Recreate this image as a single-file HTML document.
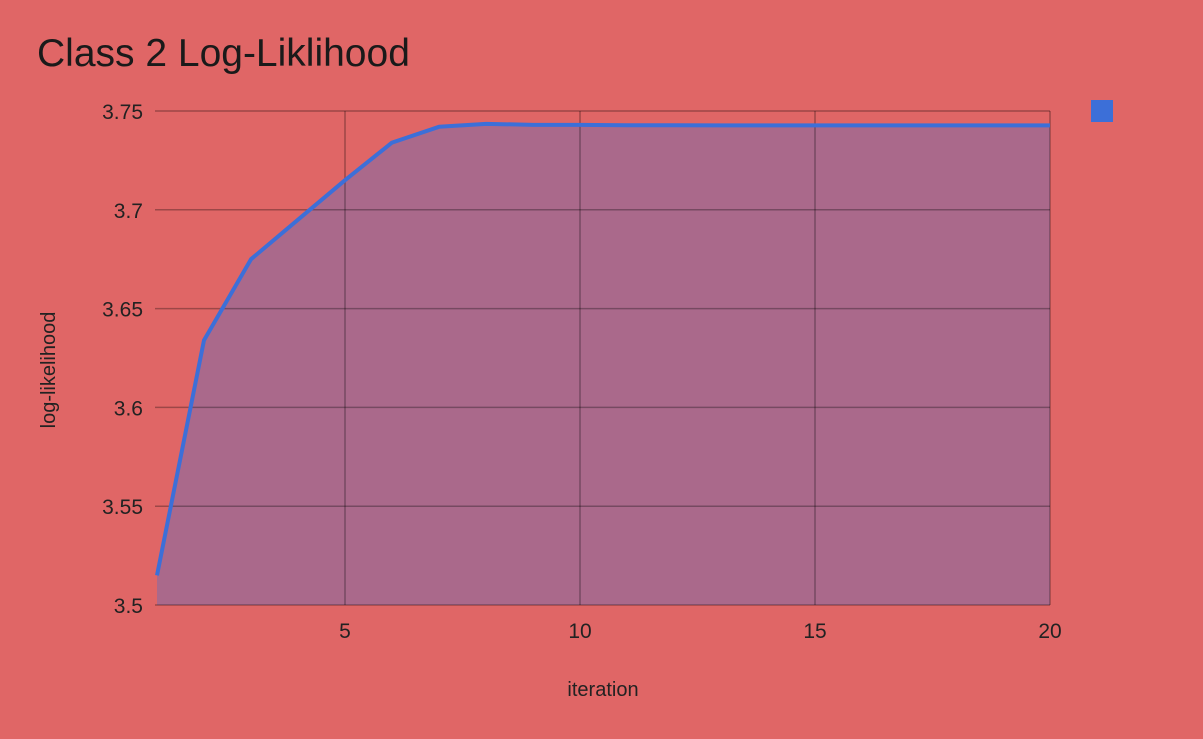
<!DOCTYPE html>
<html><head><meta charset="utf-8"><style>
html,body{margin:0;padding:0;background:#e06666;}
svg{display:block;font-family:"Liberation Sans",Roboto,sans-serif;}
</style></head><body>
<svg width="1203" height="739" id="chart">
<rect x="0" y="0" width="1203" height="739" fill="#e06666"/>
<text x="37" y="66" font-size="39" fill="#1a1a1a">Class 2 Log-Liklihood</text>
<text x="603" y="696" font-size="20" fill="#222" text-anchor="middle">iteration</text>
<text transform="translate(55,370) rotate(-90)" font-size="20" fill="#222" text-anchor="middle">log-likelihood</text>
<rect x="1091" y="100" width="22" height="22" fill="#3c6fd8"/>
<g id="plot"></g>
</svg>
<script>
const xs = [1,2,3,4,5,6,7,8,9,10,11,12,13,14,15,16,17,18,19,20];
const ys = [3.515,3.634,3.675,3.695,3.715,3.734,3.742,3.7435,3.743,3.743,3.7428,3.7428,3.7427,3.7427,3.7427,3.7427,3.7427,3.7427,3.7427,3.7427];
const yTicks = [3.5,3.55,3.6,3.65,3.7,3.75];
const xTicks = [5,10,15,20];
const X0=157,X1=1050,Y0=605,Y1=111;
const sx=v=>X0+(v-1)/(20-1)*(X1-X0);
const sy=v=>Y0-(v-3.5)/(0.25)*(Y0-Y1);
const NS="http://www.w3.org/2000/svg";
const g=document.getElementById('plot');
function mk(t,a){const e=document.createElementNS(NS,t);for(const k in a)e.setAttribute(k,a[k]);g.appendChild(e);return e;}
let d=`M${sx(xs[0])},${Y0} `+xs.map((x,i)=>`L${sx(x)},${sy(ys[i])}`).join(' ')+` L${sx(xs[xs.length-1])},${Y0} Z`;
const area=mk('path',{d,fill:'#3c6fd8','fill-opacity':0.33});


yTicks.forEach(t=>{
 const l=mk('line',{x1:155,x2:X1,y1:sy(t),y2:sy(t),stroke:'rgba(0,0,0,0.3)','stroke-width':1.5});
 
 
 const tx=mk('text',{x:143,y:sy(t)+8,'font-size':21,fill:'#222','text-anchor':'end'});tx.textContent=String(t);
 
 
});
xTicks.forEach(t=>{
 const l=mk('line',{x1:sx(t),x2:sx(t),y1:Y1,y2:Y0,stroke:'rgba(0,0,0,0.3)','stroke-width':1.5});
 
 
 const tx=mk('text',{x:sx(t),y:638,'font-size':21,fill:'#222','text-anchor':'middle'});tx.textContent=String(t);
 
 
});
const line=mk('polyline',{points:xs.map((x,i)=>`${sx(x)},${sy(ys[i])}`).join(' '),fill:'none',stroke:'#3c6fd8','stroke-width':4,'stroke-linejoin':'round'});


</script>
</body></html>
